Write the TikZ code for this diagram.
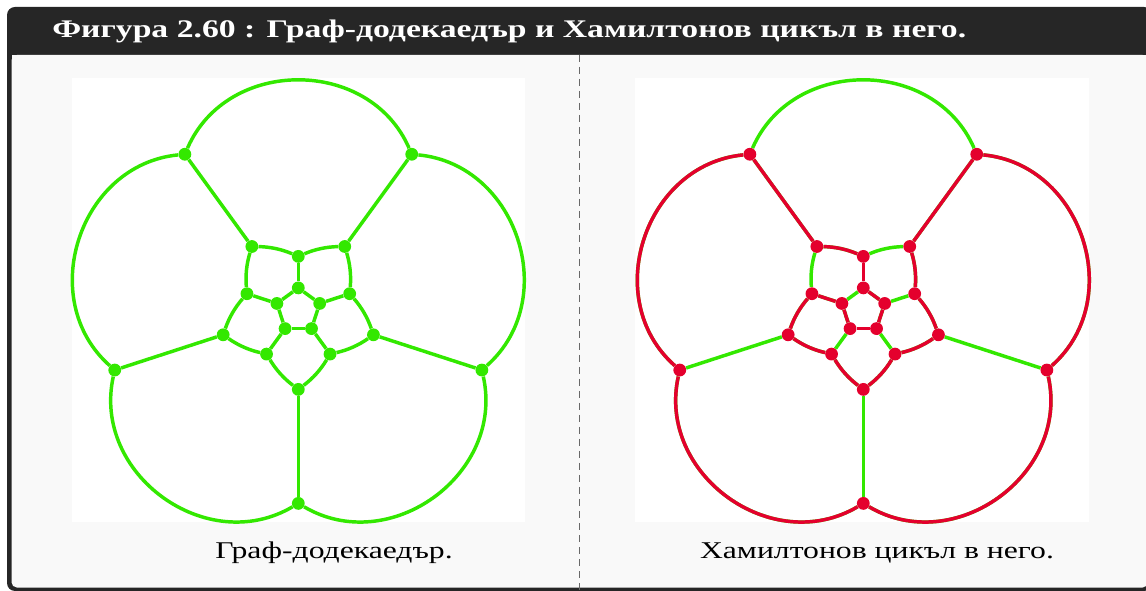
\documentclass[tikz,border=0pt]{standalone}
\usepackage{fontspec}
\setmainfont{Liberation Serif}
\usetikzlibrary{calc}

\definecolor{barcol}{RGB}{38,38,38}
\definecolor{bodycol}{RGB}{249,249,249}
\definecolor{sepcol}{RGB}{105,105,105}
\definecolor{edgegreen}{RGB}{51,232,0}
\definecolor{cyclered}{RGB}{228,0,45}

\pgfdeclarelayer{back}
\pgfdeclarelayer{edges}
\pgfsetlayers{back,edges,main}

\tikzset{
  vdot/.style={circle, inner sep=0pt, minimum size=9.6pt},
  gdot/.style={vdot, fill=edgegreen},
  rdot/.style={vdot, fill=cyclered},
  gedge/.style={edgegreen, line width=2.6pt},
  redge/.style={cyclered, line width=2.6pt},
  outarc/.style={bend right=66.5, looseness=1.15},
  midarc/.style={bend right=11, looseness=0.86},
  caption/.style={font=\fontsize{18}{21}\selectfont},
}

% vertices around centre (#2,310.4): outer o, middle m/n, inner i
\newcommand{\dodecaverts}[3]{%
  \foreach \k in {0,...,4} {
    \pgfmathsetmacro{\ao}{270+72*\k}
    \pgfmathsetmacro{\an}{306+72*\k}
    \node[#3] (#1-o\k) at ({#2+193*cos(\ao)}, {310.4-193*sin(\ao)}) {};
    \node[#3] (#1-m\k) at ({#2+79*cos(\ao)}, {310.4-79*sin(\ao)}) {};
    \node[#3] (#1-n\k) at ({#2+54*cos(\an)}, {310.4-54*sin(\an)}) {};
    \node[#3] (#1-i\k) at ({#2+22.5*cos(\an)}, {310.4-22.5*sin(\an)}) {};
  }
}
\newcommand{\dodecaedges}[2]{%
  \foreach \k in {0,...,4} {
    \pgfmathtruncatemacro{\j}{mod(\k+1,5)}
    \draw[#2] (#1-o\k) to[outarc] (#1-o\j);
    \draw[#2] (#1-o\k) -- (#1-m\k);
    \draw[#2] (#1-m\k) to[midarc] (#1-n\k);
    \draw[#2] (#1-n\k) to[midarc] (#1-m\j);
    \draw[#2] (#1-n\k) -- (#1-i\k);
    \draw[#2] (#1-i\k) -- (#1-i\j);
  }
}

\begin{document}
\begin{tikzpicture}[x=0.75pt, y=-0.75pt]
  \useasboundingbox (0,0) rectangle (1146,591);

  % frame
  \begin{pgfonlayer}{back}
    \fill[barcol, rounded corners=6] (7,7) rectangle (1152,591);
    \fill[bodycol, rounded corners=4] (11.5,55) rectangle (1148,587.5);
    \fill[bodycol] (11.5,55) rectangle (1148,70);
    \draw[sepcol, line width=1.1pt, dash pattern=on 5pt off 4pt] (579.3,55) -- (579.3,591);
    \fill[white] (72,78) rectangle (525,522);
    \fill[white] (635,78) rectangle (1089,522);
  \end{pgfonlayer}

  \node[anchor=west, text=white, font=\bfseries\fontsize{19}{21}\selectfont, inner sep=0pt] (title) at (52,31)
    {\scalebox{1.33}[1]{Фигура 2.60 : Граф-додекаедър и Хамилтонов цикъл в него.}};

  % left: the graph
  \dodecaverts{L}{298.3}{gdot}
  \begin{pgfonlayer}{edges}
    \dodecaedges{L}{gedge}
  \end{pgfonlayer}

  % right: Hamiltonian cycle
  \dodecaverts{R}{863.3}{rdot}
  \begin{pgfonlayer}{edges}
    \dodecaedges{R}{gedge}
    \foreach \k in {0,1,3,4} {
      \pgfmathtruncatemacro{\j}{mod(\k+1,5)}
      \draw[redge] (R-o\k) to[outarc] (R-o\j);
      \draw[redge] (R-i\k) -- (R-i\j);
    }
    \foreach \k in {0,...,4} {
      \pgfmathtruncatemacro{\j}{mod(\k+1,5)}
      \draw[redge] (R-n\k) to[midarc] (R-m\j);
    }
    \foreach \k in {0,1,4}
      \draw[redge] (R-m\k) to[midarc] (R-n\k);
    \foreach \k in {2,3} {
      \draw[redge] (R-o\k) -- (R-m\k);
      \draw[redge] (R-n\k) -- (R-i\k);
    }
  \end{pgfonlayer}

  \node[caption] (capL) at (334,553) {\scalebox{1.32}[1]{Граф-додекаедър.}};
  \node[caption] (capR) at (877,553) {\scalebox{1.32}[1]{Хамилтонов цикъл в него.}};
\end{tikzpicture}
\end{document}
